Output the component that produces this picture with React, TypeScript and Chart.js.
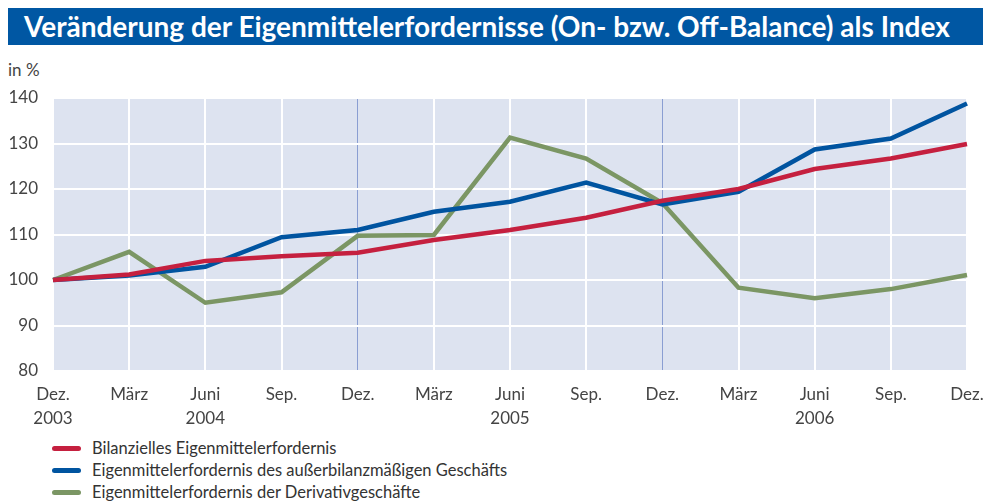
import React, { useEffect, useRef } from "react";
import { Chart, registerables } from "chart.js";

Chart.register(...registerables);

const categories: (string | string[])[] = [
  ["Dez.", "2003"], "März", ["Juni", "2004"], "Sep.", "Dez.", "März", ["Juni", "2005"],
  "Sep.", "Dez.", "März", ["Juni", "2006"], "Sep.", "Dez.",
];

const bilanziell = [100, 101.2, 104.2, 105.2, 106.0, 108.8, 111.0, 113.7, 117.4, 120.0, 124.4, 126.7, 129.9];
const ausserbilanz = [100, 101.0, 102.9, 109.4, 111.0, 115.0, 117.2, 121.4, 116.6, 119.4, 128.7, 131.1, 138.8];
const derivativ = [100, 106.2, 95.0, 97.3, 109.7, 109.9, 131.3, 126.7, 116.9, 98.3, 96.0, 98.0, 101.1];

const seriesNames = [
  "Bilanzielles Eigenmittelerfordernis",
  "Eigenmittelerfordernis des außerbilanzmäßigen Geschäfts",
  "Eigenmittelerfordernis der Derivativgeschäfte",
];
const seriesColors = ["#C5203F", "#0054A0", "#7B9664"];

const yMin = 80;
const yMax = 140;
const yStep = 10;

const title = "Veränderung der Eigenmittelerfordernisse (On- bzw. Off-Balance) als Index";
const yUnit = "in %";
const yearSeparators = [4, 8];

const FONT = "Lato, 'Open Sans', sans-serif";

const bgPlugin = {
  id: "plotBg",
  beforeDraw(chart: any) {
    const { ctx, chartArea } = chart;
    ctx.save();
    ctx.fillStyle = "#DDE3F0";
    ctx.fillRect(chartArea.left, chartArea.top, chartArea.right - chartArea.left, chartArea.bottom - chartArea.top);
    ctx.restore();
  },
};

export default function App() {
  const ref = useRef<HTMLCanvasElement | null>(null);
  useEffect(() => {
    if (!ref.current) return;
    const data = [bilanziell, ausserbilanz, derivativ];
    const chart = new Chart(ref.current, {
      type: "line",
      data: {
        labels: categories,
        datasets: data.map((d, i) => ({
          label: seriesNames[i],
          data: d,
          borderColor: seriesColors[i],
          backgroundColor: seriesColors[i],
          borderWidth: 4.5,
          pointRadius: 0,
          tension: 0,
          borderJoinStyle: "miter" as const,
        })),
      },
      options: {
        animation: false,
        responsive: false,
        maintainAspectRatio: false,
        layout: { padding: { top: 38, right: 20, left: 0, bottom: 0 } },
        plugins: { legend: { display: false }, tooltip: { enabled: false } },
        scales: {
          x: {
            grid: {
              color: (c: any) => (yearSeparators.includes(c.index) ? "#8A9ED2" : "#FFFFFF"),
              lineWidth: (c: any) => (yearSeparators.includes(c.index) ? 1 : 2),
              drawTicks: false,
            },
            border: { display: false },
            ticks: {
              color: "#444",
              font: { family: FONT, size: 17, lineHeight: 1.4 },
              padding: 12,
              maxRotation: 0,
              autoSkip: false,
            },
            afterFit(scale: any) {
              scale.height = 64;
              scale.paddingRight = 0;
              scale.paddingLeft = 0;
            },
          },
          y: {
            min: yMin,
            max: yMax,
            grid: { color: "#FFFFFF", lineWidth: 2, drawTicks: false },
            border: { display: false },
            ticks: {
              stepSize: yStep,
              color: "#444",
              font: { family: FONT, size: 17 },
              padding: 15,
            },
            afterFit(scale: any) {
              scale.width = 53;
            },
          },
        },
      },
      plugins: [bgPlugin],
    });
    return () => chart.destroy();
  }, []);

  return (
    <div style={{ position: "fixed", left: 0, top: 0, width: 987, height: 503, overflow: "hidden", background: "#fff", fontFamily: FONT }}>
      <div
        style={{
          position: "absolute", left: 8, top: 8, width: 975, height: 37, background: "#0057A3",
          color: "#fff", fontWeight: 700, fontSize: 28, lineHeight: "37px", paddingLeft: 16, boxSizing: "border-box",
          whiteSpace: "nowrap",
        }}
      >
        {title}
      </div>
      <div style={{ position: "absolute", left: 8, top: 60, fontSize: 17, color: "#444", lineHeight: "20px" }}>{yUnit}</div>
      <canvas ref={ref} width={987} height={375} style={{ position: "absolute", left: 0, top: 60, width: 987, height: 375 }} />
      <div style={{ position: "absolute", left: 52, top: 437, color: "#333", fontSize: 16.5 }}>
        {seriesNames.map((n, i) => (
          <div key={n} style={{ display: "flex", alignItems: "center", height: 22 }}>
            <span style={{ display: "inline-block", width: 29, height: 5, borderRadius: 3, background: seriesColors[i], marginRight: 11 }} />
            <span>{n}</span>
          </div>
        ))}
      </div>
    </div>
  );
}
